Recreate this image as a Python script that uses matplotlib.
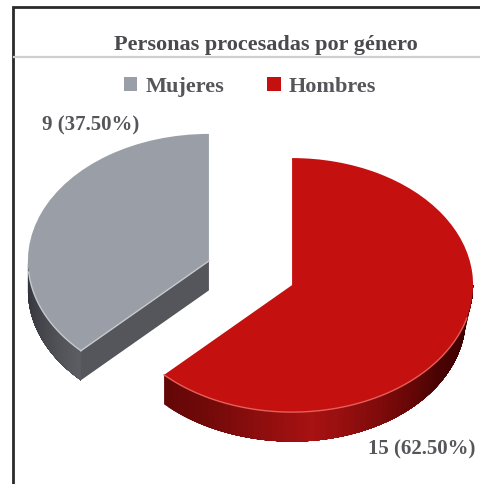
import matplotlib
matplotlib.use("Agg")
import matplotlib.pyplot as plt
import numpy as np
from matplotlib.colors import LinearSegmentedColormap

# --- Data ---
labels = ["Mujeres", "Hombres"]
counts = [9, 15]
pct_labels = ["9 (37.50%)", "15 (62.50%)"]
title = "Personas procesadas por género"

# --- Style ---
W, H = 480, 484
squash = 0.7017       # vertical flattening of the pie
depth = 42            # wall height, pie units
radius = 181
text_col = "#55555a"
serif = ["Liberation Serif", "DejaVu Serif"]
plt.rcParams["font.family"] = serif

fig = plt.figure(figsize=(W / 100, H / 100), dpi=100, facecolor="white")

# pie axes: x in pixels, y stretched so that a circle comes out as an ellipse
ax = fig.add_axes([0, 0, 1, 1])
wedges, _ = ax.pie(counts, colors=["#9a9ea6", "#c4110f"], startangle=90,
                   explode=[45, 45], radius=radius,
                   center=(250.5, (H - 273) / squash))
ax.set_aspect("auto")
ax.set_xlim(0, W)
ax.set_ylim(0, H / squash)
ax.axis("off")
for w in wedges:
    w.set_zorder(2)

red_wall = LinearSegmentedColormap.from_list(
    "red_wall", [(0, "#640707"), (0.11, "#700909"), (0.38, "#a81212"),
                 (0.61, "#700808"), (0.74, "#4a0303"), (1, "#3a0000")])
grey_wall = LinearSegmentedColormap.from_list(
    "grey_wall", ["#303238", "#44464c", "#5c5e64"])


def arc_pts(w, a, b, n=2):
    t = np.radians(np.linspace(a, b, n))
    return w.center[0] + w.r * np.cos(t), w.center[1] + w.r * np.sin(t)


def draw_wall(w, a, b, cmap, steps=70, shrink=0.0):
    # each strip runs to the far end and the next one paints over it, no seams
    edges = np.linspace(a, b, steps + 1)
    for i in range(steps):
        x, y = arc_pts(w, edges[i], b, steps + 1 - i)
        frac = np.linspace(edges[i], b, steps + 1 - i)
        frac = (frac - a) / (b - a)
        x_low = w.center[0] + (x - w.center[0]) * (1 - shrink * frac)
        px = np.r_[x, x_low[::-1]]
        py = np.r_[y, y[::-1] - depth]
        ax.fill(px, py, color=cmap(i / (steps - 1)), lw=0, zorder=1)


grey, red = wedges
# outer walls, only the part of the rim that faces the viewer
draw_wall(grey, 180, grey.theta2, grey_wall)
draw_wall(red, red.theta1, 360, red_wall, shrink=0.04)

# grey cut face
x_end, y_end = arc_pts(grey, grey.theta2, grey.theta2, 1)
cx, cy = grey.center
ax.fill([cx, x_end[0], x_end[0], cx], [cy, y_end[0], y_end[0] - depth, cy - depth],
        color="#54565b", lw=0, zorder=1)

# light rims on the top faces
x, y = arc_pts(red, red.theta1, 345, 80)
ax.plot(x, y, color="#e4605a", lw=1.0, zorder=3)
x, y = arc_pts(grey, 185, grey.theta2, 30)
ax.plot(x, y, color="#c6c9cd", lw=1.0, zorder=3)
ax.plot([cx, x_end[0]], [cy, y_end[0]], color="#c6c9cd", lw=1.0, zorder=3)

leg = ax.legend(wedges, labels, ncol=2, loc="center", frameon=False,
                bbox_to_anchor=(250 / W, 1 - 87 / H), handlelength=0.6,
                handleheight=0.6, handletextpad=0.37, columnspacing=1.95,
                prop={"family": serif, "weight": "bold", "size": 16},
                labelcolor=text_col)

# frame, title rule and texts in pixel coordinates
ov = fig.add_axes([0, 0, 1, 1])
ov.set_xlim(0, W)
ov.set_ylim(H, 0)
ov.axis("off")
ov.patch.set_alpha(0)
ov.plot([13, 13, W], [H, 7, 7], color="#2a2a2a", lw=2.0, solid_joinstyle="miter")
ov.plot([14, W], [57, 57], color="#cfcfcf", lw=1.6)
ov.text(266, 45, title, ha="center", va="center", fontsize=16,
        fontweight="bold", color="#4a4a4e")
ov.text(91, 125, pct_labels[0], ha="center", va="center", fontsize=15,
        fontweight="bold", color=text_col)
ov.text(422, 449, pct_labels[1], ha="center", va="center", fontsize=15,
        fontweight="bold", color=text_col)

fig.savefig("out.png", dpi=100)
